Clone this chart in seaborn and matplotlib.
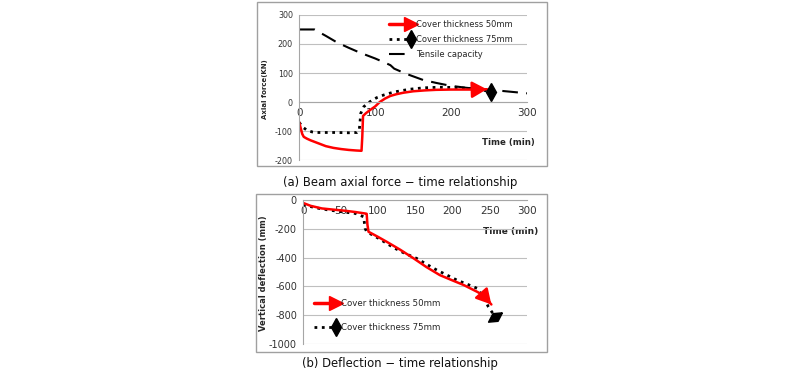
import numpy as np
import pandas as pd
import seaborn as sns
import matplotlib.pyplot as plt
from matplotlib.lines import Line2D
from matplotlib.patches import Rectangle
from matplotlib.transforms import Affine2D

# (a) axial force
force_t_50 = [0, 1.5, 4, 6, 10, 15, 25, 35, 45, 55, 65, 75, 82, 83, 84, 88, 93, 100, 106, 113, 120, 128, 137, 150, 165, 180, 200, 220, 235, 247]
force_50 = [-70, -85, -110, -120, -126, -132, -142, -152, -158, -162, -165, -167, -168, -120, -48, -38, -28, -15, 0, 12, 21, 27, 32, 37, 40, 42, 43, 43, 43, 44]
force_t_75 = [0, 4, 10, 17, 23, 35, 50, 65, 76, 79, 80, 81, 85, 93, 102, 111, 120, 128, 145, 164, 185, 205, 225, 240, 253]
force_75 = [-70, -85, -97, -103, -105, -105, -105, -106, -105, -97, -70, -39, -16, 1, 15, 24, 31, 36, 44, 49, 51, 50, 47, 42, 35]
cap_t = [0, 20, 35, 50, 65, 80, 100, 115, 120, 125, 140, 163, 180, 199, 220, 240, 260, 280, 300]
capacity = [250, 250, 228, 205, 187, 170, 150, 133, 127, 115, 98, 76, 66, 56, 49, 44, 40, 35, 30]

# (b) deflection
defl_t_50 = [0, 10, 25, 40, 56, 70, 83, 85, 86, 87.5, 100, 112, 130, 148, 165, 183, 200, 215, 233, 241, 252]
defl_50 = [-20, -40, -58, -66, -74, -83, -93, -95, -170, -220, -255, -290, -345, -405, -465, -521, -558, -590, -637, -660, -725]
defl_t_75 = [0, 3, 15, 34, 50, 70, 81, 82, 83, 85, 101, 121, 136, 152, 165, 179, 193, 206, 220, 233, 241, 248, 257]
defl_75 = [-30, -35, -52, -69, -80, -93, -116, -160, -197, -220, -266, -330, -370, -405, -445, -486, -522, -556, -585, -613, -671, -741, -810]

red = "#ff0000"
grid_c = "#bfbfbf"
spine_c = "#a6a6a6"
txt_c = "#333333"

sns.set_style("white")
plt.rcParams["font.family"] = ["DejaVu Sans"]
plt.rcParams["axes.unicode_minus"] = False

fig = plt.figure(figsize=(8, 3.74), dpi=100)

fig.patches.append(Rectangle((0.321, 0.556), 0.3625, 0.4385, transform=fig.transFigure,
                             fill=False, edgecolor="#a0a0a0", lw=1))
fig.patches.append(Rectangle((0.320, 0.059), 0.364, 0.422, transform=fig.transFigure,
                             fill=False, edgecolor="#a0a0a0", lw=1))

# thin diamond, tilted to sit across the end of the sloping line
diamond = np.array([[0, 1], [0.55, 0], [0, -1], [-0.55, 0], [0, 1]])
tilted_diamond = Affine2D().rotate_deg(-56).transform(diamond)


def style_axes(ax, xticks, yticks, xsize, ysize):
    ax.set_xticks(xticks)
    ax.set_yticks(yticks)
    ax.grid(axis="y", color=grid_c, lw=0.8)
    ax.grid(axis="x", visible=False)
    ax.set_axisbelow(True)
    for s in ["top", "right"]:
        ax.spines[s].set_visible(False)
    ax.spines["left"].set_color(spine_c)
    ax.spines["bottom"].set_color(spine_c)
    ax.spines["bottom"].set_position(("data", 0))
    ax.tick_params(axis="both", which="major", colors=spine_c,
                   labelcolor=txt_c, length=3, width=0.8, direction="out", pad=1.5)
    ax.tick_params(axis="x", labelsize=xsize)
    ax.tick_params(axis="y", labelsize=ysize)


def end_arrow(ax, xs, ys):
    ax.annotate("", xy=(xs[-1], ys[-1]), xytext=(xs[-2], ys[-2]),
                arrowprops=dict(arrowstyle="-|>,head_length=0.9,head_width=0.5",
                                color=red, lw=1.8, mutation_scale=10,
                                shrinkA=0, shrinkB=0), zorder=5)


def make_legend(ax, handles, labels, **kw):
    leg = ax.legend(handles, labels, numpoints=2, frameon=False,
                    handlelength=3.2, handletextpad=0.3, borderaxespad=0, **kw)
    for ln in leg.get_lines():
        ln.set_markevery([1])
    return leg


# ---- top panel
ax1 = fig.add_axes([0.374, 0.572, 0.285, 0.388])
sns.lineplot(x=cap_t, y=capacity, ax=ax1, color="black", lw=1.5,
             linestyle=(0, (7.5, 4)), sort=False, estimator=None)
sns.lineplot(x=force_t_75, y=force_75, ax=ax1, color="black", lw=2,
             linestyle=":", sort=False, estimator=None)
sns.lineplot(x=force_t_50, y=force_50, ax=ax1, color=red, lw=1.8,
             sort=False, estimator=None)
end_arrow(ax1, force_t_50, force_50)
ax1.plot(force_t_75[-1], force_75[-1], marker="d", color="black", ms=9, zorder=6)
ax1.set_xlim(0, 300)
ax1.set_ylim(-200, 300)
style_axes(ax1, [0, 100, 200, 300], [-200, -100, 0, 100, 200, 300], 7.5, 5.8)
ax1.set_xlabel("Time (min)", fontsize=6.2, fontweight="bold", ha="right")
ax1.xaxis.set_label_coords(1.035, 0.15)
ax1.set_ylabel("Axial force(KN)", fontsize=5, fontweight="bold")
ax1.yaxis.set_label_coords(-0.135, 0.49)

h50 = Line2D([], [], color=red, lw=2.5, marker=">", ms=10)
h75 = Line2D([], [], color="black", lw=2, linestyle=":", marker="d", ms=9)
hcap = Line2D([], [], color="black", lw=1.5, linestyle=(0, (7.5, 4)))
make_legend(ax1, [h50, h75, hcap],
            ["Cover thickness 50mm", "Cover thickness 75mm", "Tensile capacity"],
            loc="upper left", bbox_to_anchor=(0.37, 0.99), labelspacing=0.75,
            fontsize=6)

fig.text(0.5, 0.513, "(a) Beam axial force \u2212 time relationship",
         ha="center", va="center", fontsize=8.4, color="#111111")

# ---- bottom panel
ax2 = fig.add_axes([0.379, 0.080, 0.280, 0.385])
sns.lineplot(x=defl_t_75, y=defl_75, ax=ax2, color="black", lw=2,
             linestyle=":", sort=False, estimator=None)
sns.lineplot(x=defl_t_50, y=defl_50, ax=ax2, color=red, lw=1.8,
             sort=False, estimator=None)
end_arrow(ax2, defl_t_50, defl_50)
ax2.plot(defl_t_75[-1], defl_75[-1], color="black", ms=10, zorder=6,
         marker=tilted_diamond)
ax2.set_xlim(0, 300)
ax2.set_ylim(-1000, 0)
style_axes(ax2, [0, 50, 100, 150, 200, 250, 300], [-1000, -800, -600, -400, -200, 0], 7.5, 7)
ax2.set_xlabel("Time (min)", fontsize=6.5, fontweight="bold", ha="right")
ax2.xaxis.set_label_coords(1.049, 0.81)
ax2.set_ylabel("Vertical deflection (mm)", fontsize=6, fontweight="bold")
ax2.yaxis.set_label_coords(-0.155, 0.49)

make_legend(ax2, [h50, h75], ["Cover thickness 50mm", "Cover thickness 75mm"],
            loc="lower left", bbox_to_anchor=(0.02, 0.06), labelspacing=1.75,
            fontsize=6.2)

fig.text(0.5, 0.028, "(b) Deflection \u2212 time relationship",
         ha="center", va="center", fontsize=8.4, color="#111111")

fig.savefig("out.png", dpi=100)
